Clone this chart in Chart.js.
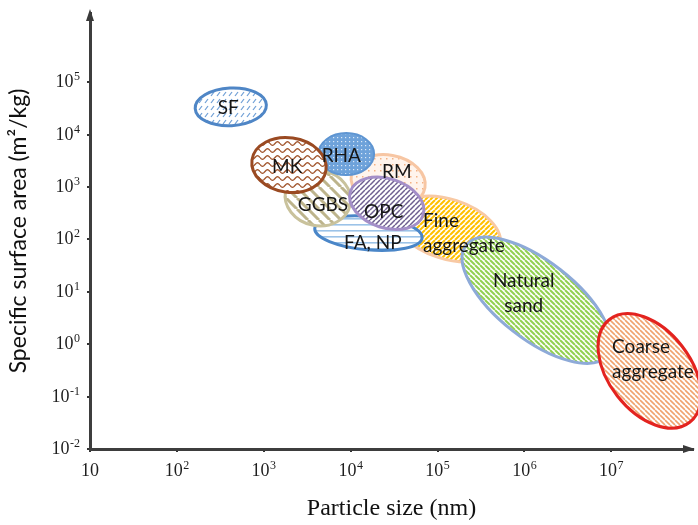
<!DOCTYPE html>
<html>
<head>
<meta charset="utf-8">
<script src="https://cdn.jsdelivr.net/npm/chart.js@4.4.0/dist/chart.umd.min.js"></script>
<style>
  html, body { margin: 0; padding: 0; background: #fff; }
  #wrap { width: 698px; height: 525px; }
</style>
</head>
<body>
<div id="wrap"><canvas id="chart"></canvas></div>
<script>
// materials and where each one sits (particle size in nm, specific surface area in m2/kg)
const materials = ['SF', 'MK', 'RHA', 'RM', 'GGBS', 'OPC', 'FA, NP', 'Fine aggregate', 'Natural sand', 'Coarse aggregate'];
const centerSize = [417, 1950, 8900, 27000, 4200, 26000, 16000, 130000, 1380000, 27500000];
const centerArea = [34000, 2630, 4270, 1290, 620, 490, 132, 158, 6.9, 0.31];
// half extents of each ellipse in decades (first axis in x decades, second in y decades), tilt in degrees
const spanX = [0.41, 0.43, 0.32, 0.43, 0.38, 0.44, 0.62, 0.63, 1.03, 0.75];
const spanY = [0.36, 0.52, 0.40, 0.50, 0.53, 0.47, 0.32, 0.57, 0.74, 0.78];
const tilt = [-3, 8, 0, 10, 12, 18, 5, 18, 38, 52];

// text labels
const labelLines = [['SF'], ['MK'], ['RHA'], ['RM'], ['GGBS'], ['OPC'], ['FA, NP'], ['Fine', 'aggregate'], ['Natural', 'sand'], ['Coarse', 'aggregate']];
const labelSize = [389, 1860, 7800, 34000, 4800, 24000, 18000, 68000, 980000, 10200000];
const labelArea = [32000, 2400, 3900, 1950, 460, 330, 85, 129, 9.3, 0.51];
const labelAlign = ['center', 'center', 'center', 'center', 'center', 'center', 'center', 'left', 'center', 'left'];

// axis ticks
const xTicks = [10, 1e2, 1e3, 1e4, 1e5, 1e6, 1e7];
const yTicks = [1e-2, 1e-1, 1, 10, 1e2, 1e3, 1e4, 1e5];

// back to front
const drawOrder = [3, 7, 8, 9, 6, 4, 5, 2, 1, 0];

function tile(w, h, bg, paint) {
  const c = document.createElement('canvas');
  c.width = w; c.height = h;
  const g = c.getContext('2d');
  g.fillStyle = bg;
  g.fillRect(0, 0, w, h);
  paint(g, w, h);
  return c;
}

function diag(bg, fg, s, lw, up) {
  return tile(s, s, bg, (g) => {
    g.strokeStyle = fg;
    g.lineWidth = lw;
    g.beginPath();
    for (let k = -1; k <= 1; k++) {
      if (up) { g.moveTo(k * s, s); g.lineTo(k * s + s, 0); }
      else { g.moveTo(k * s, 0); g.lineTo(k * s + s, s); }
    }
    g.stroke();
  });
}

function makeFills(ctx) {
  const slashes = tile(6, 7, '#ffffff', (g) => {
    g.strokeStyle = '#6f9fd6'; g.lineWidth = 1.2;
    g.beginPath(); g.moveTo(1, 5); g.lineTo(4, 1); g.stroke();
  });
  const wave = tile(10, 7, '#ffffff', (g) => {
    g.strokeStyle = '#a0532a'; g.lineWidth = 1.3;
    g.beginPath();
    for (let x = 0; x <= 10; x += 0.5) {
      const y = 3.5 + 1.8 * Math.sin(x / 10 * Math.PI * 2);
      if (x === 0) g.moveTo(x, y); else g.lineTo(x, y);
    }
    g.stroke();
  });
  const blueDots = tile(4, 4, '#6ea2da', (g) => {
    g.fillStyle = '#dce9f7'; g.fillRect(1, 1, 1.2, 1.2);
  });
  const peachDots = tile(6, 6, '#fff4ec', (g) => {
    g.fillStyle = '#f4b183'; g.fillRect(2, 2, 1.5, 1.5);
  });
  const hLines = tile(6, 6, '#ffffff', (g) => {
    g.fillStyle = '#9cc3e8'; g.fillRect(0, 2, 6, 1.6);
  });
  const p = (c) => ctx.createPattern(c, 'repeat');
  return [
    p(slashes),
    p(wave),
    p(blueDots),
    p(peachDots),
    p(diag('#ffffff', '#bdb48c', 11, 3, false)),
    p(diag('#ffffff', '#6e5f90', 5, 1.5, true)),
    p(hLines),
    p(diag('#ffffff', '#ffc000', 5, 2, true)),
    p(diag('#ffffff', '#92d050', 5, 2, false)),
    p(diag('#ffffff', '#f0a36e', 5, 1.6, false))
  ];
}

const outline = ['#4f86c6', '#9a4a22', '#5e95d2', '#f7c6a3', '#c9c29c', '#a48fc8', '#4a86c8', '#f8c9a4', '#8eaad8', '#e3231f'];
const outlineWidth = [3, 3, 2, 3, 3, 3, 3, 3, 3, 3];

const tickFont = '"Liberation Serif", "Times New Roman", serif';

// "10" with a raised exponent, drawn at an anchor
function drawPower(ctx, v, px, py, align, plain) {
  const e = Math.round(Math.log10(v));
  const base = '10';
  const sup = plain ? '' : String(e);
  ctx.font = '18px ' + tickFont;
  const wb = ctx.measureText(base).width;
  ctx.font = '12px ' + tickFont;
  const ws = ctx.measureText(sup).width;
  const total = wb + (sup ? ws + 0.5 : 0);
  let left = px - total / 2;
  if (align === 'right') left = px - total;
  ctx.textAlign = 'left';
  ctx.textBaseline = 'alphabetic';
  ctx.font = '18px ' + tickFont;
  ctx.fillText(base, left, py + 6);
  if (sup) {
    ctx.font = '12px ' + tickFont;
    ctx.fillText(sup, left + wb + 0.5, py - 1);
  }
}

const ellipsePlugin = {
  id: 'ellipses',
  beforeDatasetsDraw(chart) {
    const { ctx, scales: { x, y } } = chart;
    if (!chart.$fills) chart.$fills = makeFills(ctx);
    const pxDecX = x.getPixelForValue(1e5) - x.getPixelForValue(1e4);
    const pxDecY = y.getPixelForValue(1e4) - y.getPixelForValue(1e5);
    ctx.save();
    drawOrder.forEach((i) => {
      const meta = chart.getDatasetMeta(i);
      const pt = meta.data[0];
      ctx.beginPath();
      ctx.ellipse(pt.x, pt.y, spanX[i] * pxDecX, spanY[i] * pxDecY, tilt[i] * Math.PI / 180, 0, Math.PI * 2);
      ctx.fillStyle = chart.$fills[i];
      ctx.fill();
      ctx.lineWidth = outlineWidth[i];
      ctx.strokeStyle = outline[i];
      ctx.stroke();
    });
    ctx.restore();
  },
  afterDatasetsDraw(chart) {
    const { ctx, scales: { x, y } } = chart;
    ctx.save();
    ctx.font = '19px Lato, "Open Sans", sans-serif';
    ctx.fillStyle = '#161616';
    ctx.textBaseline = 'middle';
    const lh = 25;
    labelLines.forEach((lines, i) => {
      const px = x.getPixelForValue(labelSize[i]);
      const py = y.getPixelForValue(labelArea[i]);
      ctx.textAlign = labelAlign[i];
      const top = py - (lines.length - 1) * lh / 2;
      lines.forEach((t, k) => ctx.fillText(t, px, top + k * lh));
    });
    ctx.restore();
  },
  afterDraw(chart) {
    const { ctx, chartArea: a, scales: { x, y } } = chart;
    ctx.save();
    // tick labels
    ctx.fillStyle = '#1e1e1e';
    xTicks.forEach((v, k) => drawPower(ctx, v, x.getPixelForValue(v), a.bottom + 21, 'center', k === 0));
    yTicks.forEach((v) => drawPower(ctx, v, a.left - 10, y.getPixelForValue(v) - 1, 'right', false));
    // arrow heads on both axes
    ctx.fillStyle = '#3a3a3a';
    ctx.beginPath();
    ctx.moveTo(a.left, a.top - 4);
    ctx.lineTo(a.left - 4, a.top + 8);
    ctx.lineTo(a.left + 4, a.top + 8);
    ctx.closePath();
    ctx.fill();
    ctx.beginPath();
    ctx.moveTo(a.right + 2, a.bottom);
    ctx.lineTo(a.right - 10, a.bottom - 4);
    ctx.lineTo(a.right - 10, a.bottom + 4);
    ctx.closePath();
    ctx.fill();
    ctx.restore();
  }
};

const datasets = materials.map((m, i) => ({
  label: m,
  data: [{ x: centerSize[i], y: centerArea[i] }],
  pointRadius: 0,
  pointHoverRadius: 0
}));

const axisCommon = {
  type: 'logarithmic',
  border: { display: true, color: '#3d3d3d', width: 3 },
  grid: { display: true, drawOnChartArea: false, drawTicks: true, tickLength: 3, color: '#333', lineWidth: 2 }
};

new Chart(document.getElementById('chart'), {
  type: 'scatter',
  data: { datasets },
  options: {
    responsive: true,
    maintainAspectRatio: false,
    animation: false,
    layout: { padding: { top: 13, right: 5, left: 0, bottom: 0 } },
    plugins: { legend: { display: false }, tooltip: { enabled: false } },
    scales: {
      x: {
        ...axisCommon,
        min: 10,
        max: 8.7e7,
        afterBuildTicks: (s) => { s.ticks = xTicks.map((v) => ({ value: v })); },
        afterFit: (s) => { s.height = 76; },
        ticks: { display: false, autoSkip: false },
        title: {
          display: true,
          text: 'Particle size (nm)',
          font: { family: tickFont, size: 24, lineHeight: 1 },
          color: '#111',
          padding: { top: 0, bottom: 4 }
        }
      },
      y: {
        ...axisCommon,
        min: 1e-2,
        max: 2.1e6,
        afterBuildTicks: (s) => { s.ticks = yTicks.map((v) => ({ value: v })); },
        afterFit: (s) => { s.width = 90; },
        ticks: { display: false, autoSkip: false },
        title: {
          display: true,
          text: 'Specific surface area (m\u00B2/kg)',
          font: { family: 'Lato, "Open Sans", sans-serif', size: 23, lineHeight: 1 },
          color: '#111',
          padding: { top: 7, bottom: 0 }
        }
      }
    }
  },
  plugins: [ellipsePlugin]
});
</script>
</body>
</html>
